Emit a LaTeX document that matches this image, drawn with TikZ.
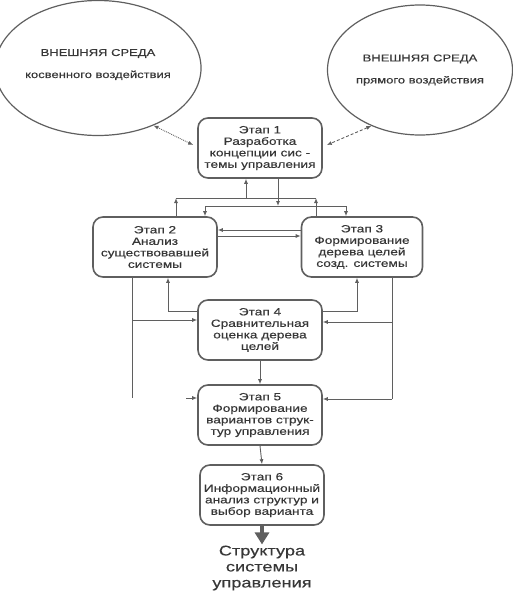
\documentclass[tikz,border=0pt]{standalone}
\usepackage{fontspec}
\setmainfont{Liberation Sans}[FakeStretch=1.3,FakeBold=0.4]
\definecolor{lineGray}{RGB}{95, 95, 95}
\definecolor{textGray}{RGB}{55, 55, 55}
\usetikzlibrary{shapes.geometric,arrows.meta,calc,positioning}
\tikzset{
  stageBox/.style={rounded corners=10pt,draw=lineGray,line width=1.6pt,text=textGray,
    font=\fontsize{10.5}{11.5}\selectfont,align=center,minimum width=124pt,minimum height=60pt,inner sep=1pt},
  envEllipse/.style={ellipse,draw=lineGray,line width=1.2pt,text=textGray,
    font=\fontsize{10}{12}\selectfont,align=center,inner sep=0pt},
  flowLine/.style={draw=lineGray,line width=0.9pt},
  flowArrow/.style={flowLine,-{Latex[length=5pt,width=4pt]}},
  envArrow/.style={draw=lineGray,line width=0.9pt,{Latex[length=5pt,width=4pt]}-{Latex[length=5pt,width=4pt]}},
  bigArrow/.style={draw=lineGray,line width=3.5pt,-{Triangle[length=12pt,width=14pt]}}
}
\begin{document}
\begin{tikzpicture}[x=1pt,y=-1pt]
\useasboundingbox (0,0) rectangle (513,592);
\node[envEllipse,minimum width=193pt,minimum height=135pt] (envIndirect) at (98,68)
  {ВНЕШНЯЯ СРЕДА\\[10pt]косвенного воздействия\\[-3pt]\mbox{}};
\node[envEllipse,minimum width=185pt,minimum height=130pt] (envDirect) at (420,70)
  {ВНЕШНЯЯ СРЕДА\\[10pt]прямого воздействия};

\node[stageBox] (s1) at (260,148) {Этап 1\\Разработка\\концепции сис -\\темы управления};
\node[stageBox] (s2) at (155,247) {Этап 2\\Анализ\\существовавшей\\системы};
\node[stageBox,minimum width=121pt] (s3) at (362,247) {Этап 3\\Формирование\\дерева целей\\созд. системы};
\node[stageBox] (s4) at (260,330) {Этап 4\\Сравнительная\\оценка дерева\\целей};
\node[stageBox] (s5) at (260,415) {Этап 5\\Формирование\\вариантов струк-\\тур управления};
\node[stageBox] (s6) at (262,495) {Этап 6\\Информационный\\анализ структур и\\выбор варианта};
\node[text=textGray,font=\fontsize{14}{16}\selectfont,align=center,inner sep=1pt] (result) at (262,568)
  {Структура\\системы\\управления};

\draw[envArrow,densely dotted] (envIndirect.-46) -- ($(s1.west)+(-4,-3)$);
\draw[envArrow,densely dashed] (envDirect.-131) -- ($(s1.east)+(4,-3)$);

\coordinate (ub2) at (176,198);
\coordinate (ub1) at (246,198);
\coordinate (ub3) at (316,198);
\coordinate (lb2) at (205,206);
\coordinate (lb1) at (278,206);
\coordinate (lb3) at (346,206);
\draw[flowLine] (ub2) -- (ub3);
\draw[flowArrow] (s2.north -| ub2) -- (ub2);
\draw[flowArrow] (s3.north -| ub3) -- (ub3);
\draw[flowArrow] (ub1) -- (s1.south -| ub1);
\draw[flowLine] (lb2) -- (lb3);
\draw[flowArrow] (s1.south -| lb1) -- (lb1);
\draw[flowArrow] (lb2) -- (s2.north -| lb2);
\draw[flowArrow] (lb3) -- (s3.north -| lb3);

\draw[flowArrow] ($(s3.west)+(0,-17)$) -- ($(s2.east)+(0,-17)$);
\draw[flowArrow] ($(s2.east)+(0,-11)$) -- ($(s3.west)+(0,-11)$);

\coordinate (lc) at (132,320);
\coordinate (lcb) at (132,398);
\coordinate (stub) at (186,398);
\draw[flowLine] (s2.south -| lc) -- (lcb);
\draw[flowArrow] (lc) -- (s4.west |- lc);
\draw[flowArrow] (stub) -- (s5.west |- stub);

\draw[flowArrow] ($(s4.west)+(0,-19)$) -| ($(s2.south)+(13,0)$);
\draw[flowArrow] ($(s4.east)+(0,-19)$) -| ($(s3.south)+(-5,0)$);

\coordinate (rc) at (392,322);
\coordinate (rcb) at (392,399);
\draw[flowLine] (s3.south -| rc) -- (rcb);
\draw[flowArrow] (rc) -- (s4.east |- rc);
\draw[flowArrow] (rcb) -- (s5.east |- rcb);

\draw[flowArrow] (s4.south) -- (s5.north);
\draw[flowArrow] (s5.south) -- (s6.north);
\draw[bigArrow] (s6.south) -- (result.north);
\end{tikzpicture}
\end{document}
